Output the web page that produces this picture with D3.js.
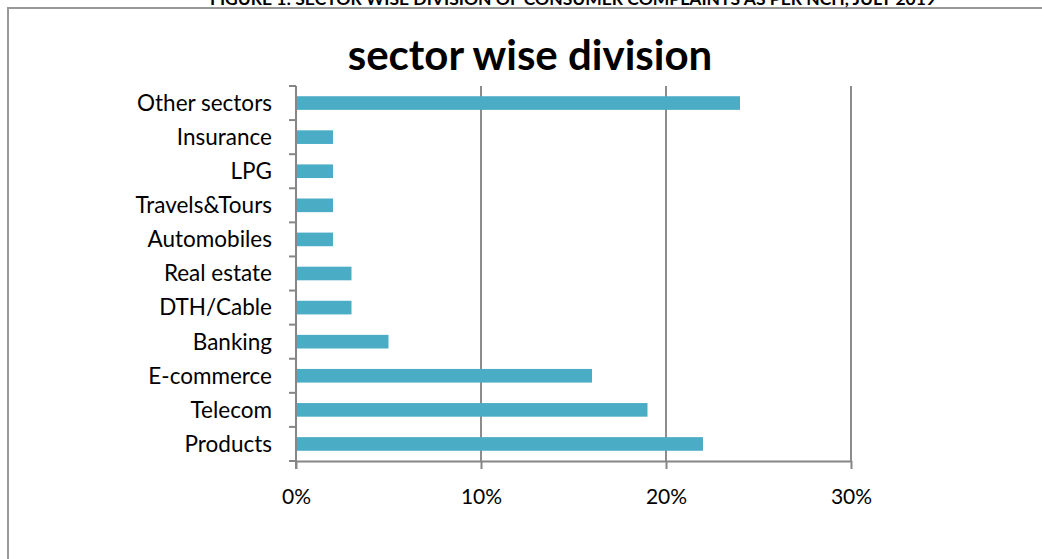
<!DOCTYPE html>
<html>

<head>
  <meta charset="utf8">
  <script src="https://d3js.org/d3.v7.min.js"></script>
  <style>
    body {
      margin: 0;
      background: #fff;
    }

    text {
      font-family: Lato, "Open Sans", sans-serif;
      fill: #000;
    }

    .bar {
      fill: #4bacc6;
    }

    .axis path,
    .axis line {
      stroke: #868686;
      stroke-width: 2;
    }

    .grid line {
      stroke: #8c8c8c;
      stroke-width: 2;
    }
  </style>
</head>

<body>
  <svg id="chart" width="1042" height="559"></svg>

  <script>
    var sectors = ['Products', 'Telecom', 'E-commerce', 'Banking', 'DTH/Cable', 'Real estate',
      'Automobiles', 'Travels&Tours', 'LPG', 'Insurance', 'Other sectors'];
    var shares = [0.22, 0.19, 0.16, 0.05, 0.03, 0.03, 0.02, 0.02, 0.02, 0.02, 0.24];
    var xTicks = [0, 0.1, 0.2, 0.3];

    var data = sectors.map((s, i) => ({ sector: s, share: shares[i] }));

    var chart = d3.select('#chart');
    var margin = { top: 86, left: 296 };
    var width = 555;
    var height = 375;

    // frame around the figure (cut off at the right and bottom)
    chart.append('path')
      .attr('d', 'M8,559 V8 H1042')
      .attr('fill', 'none')
      .attr('stroke', '#999')
      .attr('stroke-width', 2);

    // figure caption, mostly clipped above the frame
    chart.append('text')
      .attr('x', 573)
      .attr('y', 5)
      .attr('text-anchor', 'middle')
      .style('font-weight', 'bold')
      .style('font-size', '17.5px')
      .text('FIGURE 1: SECTOR WISE DIVISION OF CONSUMER COMPLAINTS AS PER NCH, JULY 2019');

    chart.append('text')
      .attr('x', 530)
      .attr('y', 70)
      .attr('text-anchor', 'middle')
      .style('font-weight', 'bold')
      .style('font-size', '42px')
      .text('sector wise division');

    var x = d3.scaleLinear()
      .domain([0, 0.3])
      .range([0, width]);

    var y = d3.scaleBand()
      .domain(sectors)
      .range([height, 0])
      .paddingInner(0.6)
      .paddingOuter(0.3);

    var group = chart.append('g')
      .attr('transform', 'translate(' + margin.left + ', ' + margin.top + ')');

    group.append('g')
      .attr('class', 'grid')
      .selectAll('line')
      .data(xTicks.slice(1))
      .enter()
      .append('line')
      .attr('x1', (d) => x(d))
      .attr('x2', (d) => x(d))
      .attr('y1', 0)
      .attr('y2', height);

    var xAxis = group.append('g')
      .attr('class', 'axis x-axis')
      .attr('transform', 'translate(0, ' + height + ')')
      .call(d3.axisBottom(x).tickValues(xTicks).tickFormat(d3.format('.0%')).tickSize(8).tickSizeOuter(0).tickPadding(20));
    xAxis.selectAll('text')
      .style('font-size', '21px');

    // y axis with ticks on the band boundaries
    var step = y.step();
    group.append('line')
      .attr('class', 'axis')
      .attr('x1', 0).attr('x2', 0)
      .attr('y1', 0).attr('y2', height + 8)
      .style('stroke', '#868686')
      .style('stroke-width', 2);
    group.append('g')
      .attr('class', 'axis')
      .selectAll('line')
      .data(d3.range(sectors.length + 1))
      .enter()
      .append('line')
      .attr('x1', -7).attr('x2', 0)
      .attr('y1', (i) => i * step)
      .attr('y2', (i) => i * step);

    group.append('g')
      .selectAll('text')
      .data(sectors)
      .enter()
      .append('text')
      .attr('x', -24)
      .attr('y', (d) => y(d) + y.bandwidth() / 2)
      .attr('dy', '0.35em')
      .attr('text-anchor', 'end')
      .style('font-size', '22.5px')
      .text((d) => d);

    group.selectAll('.bar')
      .data(data)
      .enter()
      .append('rect')
      .attr('class', 'bar')
      .attr('x', 1)
      .attr('y', (d) => y(d.sector))
      .attr('width', (d) => x(d.share) - 1)
      .attr('height', y.bandwidth());
  </script>
</body>

</html>
